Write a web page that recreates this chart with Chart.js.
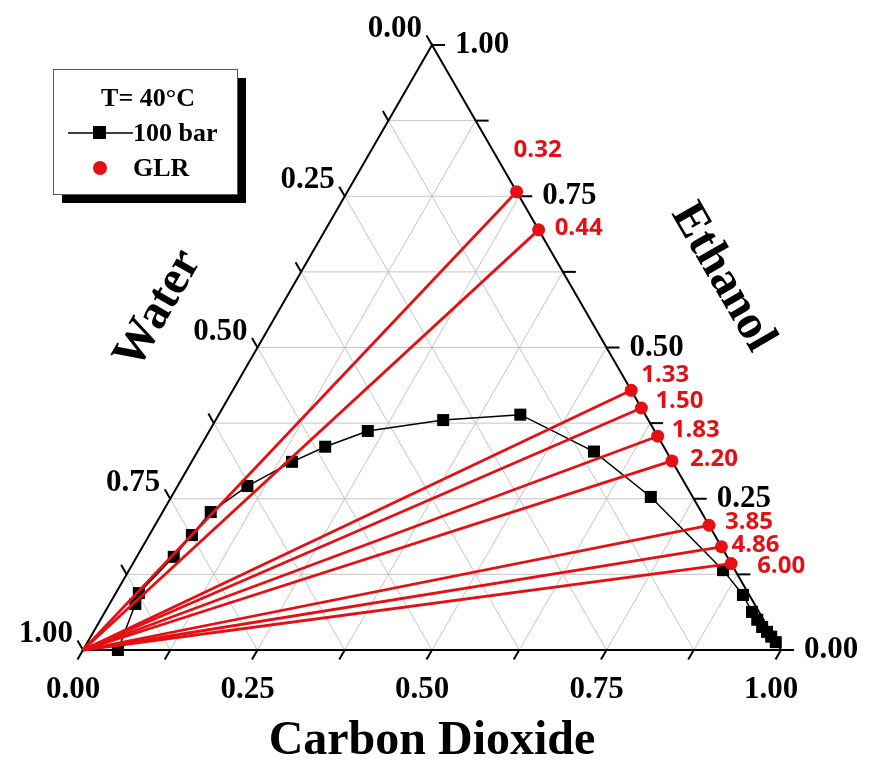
<!DOCTYPE html>
<html>
<head>
<meta charset="utf-8">
<title>CO2 / Ethanol / Water at 40 °C</title>
<script src="https://cdn.jsdelivr.net/npm/chart.js@4.4.1/dist/chart.umd.min.js"></script>
<style>
  html, body { margin: 0; padding: 0; background: #fff; }
  canvas { display: block; }
</style>
</head>
<body>
<canvas id="ternaryChart" width="870" height="765"></canvas>
<script>
// phase boundary at 100 bar (mass fractions; water = 1 - co2 - ethanol)
const boundaryCO2 = [0.050, 0.037, 0.033, 0.053, 0.061, 0.069, 0.100, 0.144, 0.179, 0.227, 0.326, 0.432,
    0.568, 0.687, 0.851, 0.900, 0.927, 0.941, 0.954, 0.965, 0.975, 0.986];
const boundaryEthanol = [0.000, 0.076, 0.094, 0.154, 0.190, 0.228, 0.271, 0.311, 0.336, 0.362, 0.380, 0.389,
    0.328, 0.253, 0.132, 0.091, 0.063, 0.050, 0.038, 0.030, 0.022, 0.013];

// gas to liquid ratios (CO2 / ethanol) of the feeds on the CO2-ethanol edge
const glrValues = [0.32, 0.44, 1.33, 1.50, 1.83, 2.20, 3.85, 4.86, 6.00];

const axisTicks = [0, 0.25, 0.5, 0.75, 1];
const gridStep = 0.125;

// where each GLR label sits relative to its dot, in pixels
const glrLabelOffsets = [[21, -42], [40, -2], [34, -15], [38, -7], [38, -6], [42, -2], [40, -3], [34, -2], [50, 3]];

const H = Math.sqrt(3) / 2;
const RED = "#e50f14";
const SERIF = "'Liberation Serif', 'Times New Roman', serif";

function toXY(co2, ethanol) {
    return { x: co2 + ethanol / 2, y: ethanol * H };
}

const boundaryPoints = boundaryCO2.map((c, i) => toXY(c, boundaryEthanol[i]));
const glrPoints = glrValues.map(g => toXY(g / (1 + g), 1 / (1 + g)));

// one straight tie line from the water corner to every feed point
const tieLineSets = glrPoints.map(p => ({
    data: [toXY(0, 0), p],
    showLine: true,
    borderColor: RED,
    borderWidth: 2.8,
    pointRadius: 0,
    clip: false,
    order: 1
}));

function drawLine(ctx, a, b) {
    ctx.beginPath();
    ctx.moveTo(a[0], a[1]);
    ctx.lineTo(b[0], b[1]);
    ctx.stroke();
}

const ternaryFrame = {
    id: "ternaryFrame",
    beforeDatasetsDraw(chart) {
        const { ctx, scales: { x, y } } = chart;
        const px = (c, e) => {
            const p = toXY(c, e);
            return [x.getPixelForValue(p.x), y.getPixelForValue(p.y)];
        };
        ctx.save();
        ctx.lineCap = "butt";

        // grid, every 1/8 in all three directions
        ctx.strokeStyle = "#c4c4c4";
        ctx.lineWidth = 1;
        for (let f = gridStep; f < 1 - 1e-9; f += gridStep) {
            drawLine(ctx, px(0, f), px(1 - f, f));
            drawLine(ctx, px(f, 0), px(f, 1 - f));
            drawLine(ctx, px(1 - f, 0), px(0, 1 - f));
        }

        // triangle edges
        ctx.strokeStyle = "#000";
        ctx.lineWidth = 2;
        ctx.beginPath();
        const a = px(0, 0), b = px(1, 0), t = px(0, 1);
        ctx.moveTo(a[0], a[1]);
        ctx.lineTo(b[0], b[1]);
        ctx.lineTo(t[0], t[1]);
        ctx.closePath();
        ctx.stroke();

        // ticks point along the grid direction of each axis
        const len = 11;
        for (let f = 0; f <= 1 + 1e-9; f += gridStep) {
            const pb = px(f, 0);
            drawLine(ctx, pb, [pb[0] - len * 0.5, pb[1] + len * H]);
            const pl = px(0, 1 - f);
            drawLine(ctx, pl, [pl[0] - len * 0.5, pl[1] - len * H]);
            const pr = px(1 - f, f);
            drawLine(ctx, pr, [pr[0] + len + 2, pr[1]]);
        }
        ctx.restore();
    },
    afterDraw(chart) {
        const { ctx, scales: { x, y } } = chart;
        const px = (c, e) => {
            const p = toXY(c, e);
            return [x.getPixelForValue(p.x), y.getPixelForValue(p.y)];
        };
        ctx.save();
        ctx.fillStyle = "#000";
        ctx.font = `bold 31px ${SERIF}`;
        ctx.textBaseline = "middle";

        axisTicks.forEach(v => {
            const label = v.toFixed(2);
            // Carbon Dioxide (bottom)
            const pb = px(v, 0);
            ctx.textAlign = "center";
            ctx.fillText(label, pb[0] - 10, pb[1] + 40);
            // Water (left)
            const pl = px(0, 1 - v);
            ctx.textAlign = "right";
            ctx.fillText(label, pl[0] - 10, pl[1] - 16);
            // Ethanol (right)
            const pr = px(1 - v, v);
            ctx.textAlign = "left";
            ctx.fillText(label, pr[0] + 23, pr[1]);
        });

        // axis titles
        ctx.font = `bold 48px ${SERIF}`;
        ctx.textAlign = "center";
        const bottomMid = px(0.5, 0);
        ctx.fillText("Carbon Dioxide", bottomMid[0], bottomMid[1] + 92);

        const leftMid = px(0, 0.5);
        ctx.save();
        ctx.translate(leftMid[0] - 99, leftMid[1] - 38);
        ctx.rotate(-Math.PI / 3);
        ctx.fillText("Water", 0, 0);
        ctx.restore();

        const rightMid = px(0.5, 0.5);
        ctx.save();
        ctx.translate(rightMid[0] + 116, rightMid[1] - 70);
        ctx.rotate(Math.PI / 3);
        ctx.fillText("Ethanol", 0, 0);
        ctx.restore();

        // GLR value next to each feed point
        const dots = chart.getDatasetMeta(0).data;
        ctx.fillStyle = RED;
        ctx.font = "bold 24px 'Open Sans', 'Liberation Sans', sans-serif";
        ctx.textAlign = "center";
        dots.forEach((pt, i) => {
            const off = glrLabelOffsets[i];
            ctx.fillText(glrValues[i].toFixed(2), pt.x + off[0], pt.y + off[1]);
        });

        // legend box with drop shadow
        const bx = 53, by = 69, bw = 184, bh = 125;
        ctx.fillStyle = "#000";
        ctx.fillRect(bx + 9, by + 9, bw, bh);
        ctx.fillStyle = "#fff";
        ctx.fillRect(bx, by, bw, bh);
        ctx.strokeStyle = "#555";
        ctx.lineWidth = 1;
        ctx.strokeRect(bx + 0.5, by + 0.5, bw, bh);

        ctx.fillStyle = "#000";
        ctx.font = `bold 26px ${SERIF}`;
        ctx.textAlign = "center";
        ctx.fillText("T= 40°C", bx + 95, by + 30);

        ctx.strokeStyle = "#000";
        ctx.lineWidth = 1.5;
        drawLine(ctx, [bx + 15, by + 64], [bx + 80, by + 64]);
        ctx.fillRect(bx + 40, by + 57, 13, 13);
        ctx.textAlign = "left";
        ctx.fillText("100 bar", bx + 80, by + 65);

        ctx.fillStyle = RED;
        ctx.beginPath();
        ctx.arc(bx + 47, by + 99, 7, 0, Math.PI * 2);
        ctx.fill();
        ctx.fillStyle = "#000";
        ctx.fillText("GLR", bx + 80, by + 100);
        ctx.restore();
    }
};

new Chart(document.getElementById("ternaryChart"), {
    type: "scatter",
    data: {
        datasets: [
            {
                label: "GLR",
                data: glrPoints,
                backgroundColor: RED,
                borderColor: RED,
                pointRadius: 6.5,
                pointBorderWidth: 0,
                clip: false,
                order: 0
            },
            ...tieLineSets,
            {
                label: "100 bar",
                data: boundaryPoints,
                showLine: true,
                borderColor: "#000",
                borderWidth: 1.5,
                backgroundColor: "#000",
                pointStyle: "rect",
                pointRadius: 8.5,
                pointBorderWidth: 0,
                clip: false,
                order: 2
            }
        ]
    },
    options: {
        responsive: false,
        animation: false,
        devicePixelRatio: 1,
        layout: { padding: { left: 83, right: 89, top: 45, bottom: 115 } },
        scales: {
            x: { type: "linear", min: 0, max: 1, display: false },
            y: { type: "linear", min: 0, max: H, display: false }
        },
        plugins: {
            legend: { display: false },
            tooltip: { enabled: false }
        }
    },
    plugins: [ternaryFrame]
});
</script>
</body>
</html>
